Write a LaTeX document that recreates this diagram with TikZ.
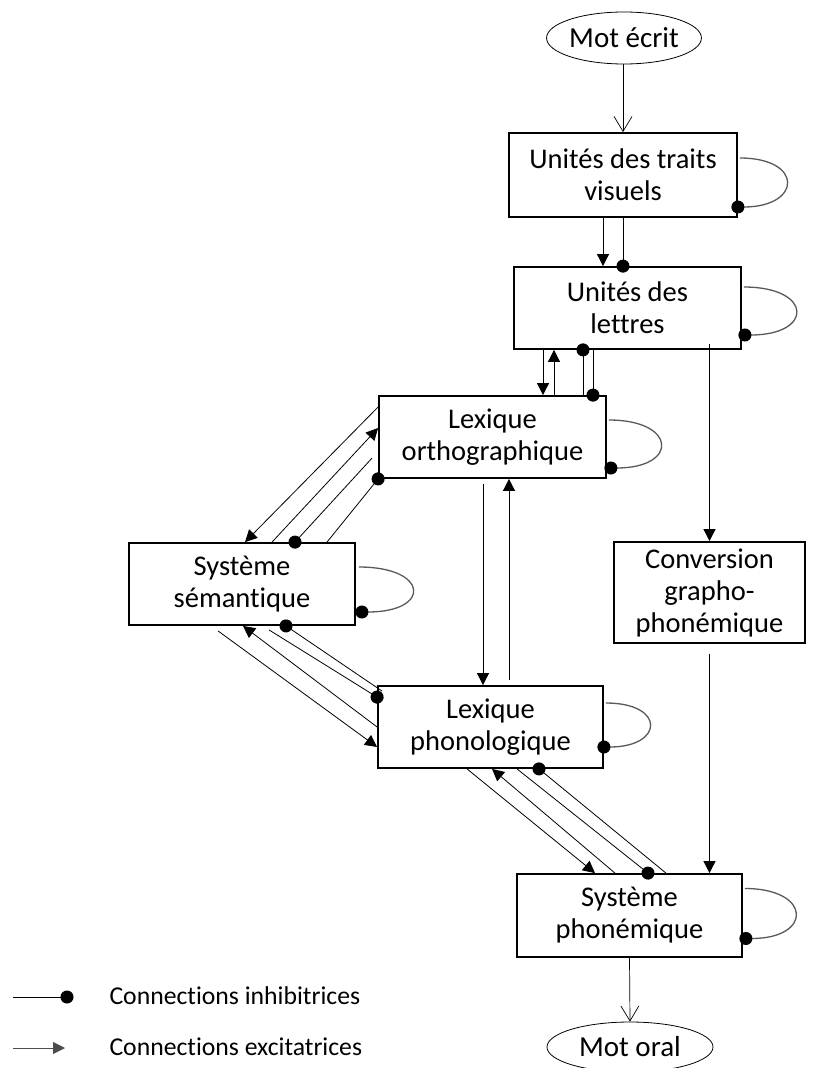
\documentclass[tikz,border=0pt]{standalone}
\usepackage{fontspec}
\setmainfont{Carlito}[Ligatures={NoCommon,NoRequired,NoContextual},Contextuals=NoAlternate,RawFeature={-ccmp;-dlig;-hlig}]
\usetikzlibrary{arrows.meta,shapes.geometric}

\begin{document}
\begin{tikzpicture}[x=1pt,y=-1pt,
				boite/.style={draw,line width=1.8pt,inner sep=0pt,align=center,font=\fontsize{28.5}{32}\selectfont},
				mot/.style={draw,ellipse,line width=0.8pt,inner sep=0pt,font=\fontsize{29}{32}\selectfont},
				legende/.style={anchor=west,font=\fontsize{25.7}{30}\selectfont},
				exc/.style={line width=0.8pt,-{Triangle[length=12pt,width=12pt]}},
				inh/.style={line width=0.8pt,shorten >=-6.5pt,-{Circle[length=13pt]}},
				boucle/.style={draw=black!65,line width=1.3pt,shorten >=-6.5pt,-{Circle[length=13pt,black]}},
				ouvert/.style={line width=0.7pt,-{Straight Barb[length=15pt,width=18pt]}}]
\useasboundingbox (0,0) rectangle (839,1068);
\node[mot,minimum width=149pt,minimum height=52pt] (ecrit) at (624,38) {Mot écrit};
\node[boite,minimum width=228pt,minimum height=84pt] (visuels) at (623,175) {Unités des traits\\visuels};
\node[boite,minimum width=227pt,minimum height=82pt] (lettres) at (627.5,308) {Unités des\\lettres};
\node[boite,minimum width=227pt,minimum height=82pt] (ortho) at (492.5,437) {Lexique\\orthographique};
\node[boite,minimum width=226pt,minimum height=82pt] (semantique) at (242,584) {Système\\sémantique};
\node[boite,minimum width=191pt,minimum height=101pt] (conversion) at (709.5,592.5) {Conversion\\grapho-\\phonémique};
\node[boite,minimum width=225pt,minimum height=82pt] (phono) at (490.5,727) {Lexique\\phonologique};
\node[boite,minimum width=225pt,minimum height=83pt] (phonemique) at (629.5,915.5) {Système\\phonémique};
\node[mot,minimum width=166pt,minimum height=50pt] (oral) at (630,1047) {Mot oral};

\draw[ouvert] (ecrit.south -| visuels.north) -- (visuels.north);
\draw[ouvert] (phonemique.south) -- (oral.north);

\draw[exc] ([xshift=-20pt]visuels.south) -- ([xshift=-24.5pt]lettres.north);
\draw[inh] (visuels.south) -- ([xshift=-4.5pt]lettres.north);

\draw[exc] ([xshift=-84.5pt,yshift=2pt]lettres.south) -- ([xshift=50.5pt]ortho.north);
\draw[exc] ([xshift=61.5pt]ortho.north) -- ([xshift=-73.5pt]lettres.south);
\draw[inh] ([xshift=90.5pt]ortho.north) -- ([xshift=-44.5pt]lettres.south);
\draw[inh] ([xshift=-34.5pt]lettres.south) -- ([xshift=100.5pt]ortho.north);

\draw[exc] ([yshift=6pt]lettres.south -| conversion.north) -- (conversion.north);
\draw[exc] ([yshift=-10pt]conversion.south) -- (conversion.south |- phonemique.north);

\draw[exc] ([yshift=30pt]ortho.west) -- ([xshift=3pt]semantique.north);
\draw[exc] ([xshift=30pt]semantique.north) -- ([yshift=9pt]ortho.west);
\draw[inh] ([xshift=-6pt,yshift=-21pt]ortho.west) -- ([xshift=53pt]semantique.north);
\draw[inh] ([xshift=85pt]semantique.north) -- (ortho.south west);

\draw[exc] ([xshift=-9.5pt,yshift=-5pt]ortho.south) -- ([xshift=-7.5pt]phono.north);
\draw[exc] ([xshift=18.5pt,yshift=5pt]phono.north) -- ([xshift=16.5pt]ortho.south);

\draw[exc] ([xshift=-24pt,yshift=-5pt]semantique.south) -- ([yshift=-20pt]phono.west);
\draw[exc] (phono.west) -- ([xshift=1pt]semantique.south);
\draw[inh] ([xshift=27pt,yshift=-4pt]semantique.south) -- ([yshift=-12pt]phono.north west);
\draw[inh] ([xshift=5pt,yshift=-6pt]phono.north west) -- ([xshift=44pt]semantique.south);

\draw[exc] ([xshift=-23.5pt]phono.south) -- ([xshift=-34.5pt]phonemique.north);
\draw[exc] ([xshift=-14.5pt]phonemique.north) -- ([xshift=1.5pt]phono.south);
\draw[inh] ([xshift=26.5pt]phono.south) -- ([xshift=18.5pt]phonemique.north);
\draw[inh] ([xshift=36.5pt]phonemique.north) -- ([xshift=48.5pt]phono.south);

\draw[boucle] ([xshift=2pt,yshift=17pt]visuels.east) .. controls +(64,0) and +(64,0) .. ([yshift=-32pt]visuels.east);
\draw[boucle] ([xshift=2pt,yshift=21pt]lettres.east) .. controls +(69,0) and +(69,0) .. ([xshift=3pt,yshift=-27pt]lettres.east);
\draw[boucle] ([xshift=2pt,yshift=17pt]ortho.east) .. controls +(68,0) and +(68,0) .. ([xshift=4pt,yshift=-31pt]ortho.east);
\draw[boucle] ([xshift=3pt,yshift=17pt]semantique.east) .. controls +(70,0) and +(70,0) .. ([xshift=6pt,yshift=-28pt]semantique.east);
\draw[boucle] ([xshift=2pt,yshift=24pt]phono.east) .. controls +(60,0) and +(60,0) .. ([yshift=-20pt]phono.east);
\draw[boucle] ([xshift=2pt,yshift=27pt]phonemique.east) .. controls +(67,0) and +(67,0) .. ([xshift=3pt,yshift=-23pt]phonemique.east);

\coordinate (inhA) at (13,997);
\coordinate (inhB) at (67,997);
\coordinate (excA) at (13,1048);
\coordinate (excB) at (65,1048);
\draw[inh] (inhA) -- (inhB);
\draw[exc,draw=black!70] (excA) -- (excB);
\node[legende] (tinh) at (106,996) {Connections inhibitrices};
\node[legende] (texc) at (106,1047) {Connections excitatrices};
\end{tikzpicture}
\end{document}
